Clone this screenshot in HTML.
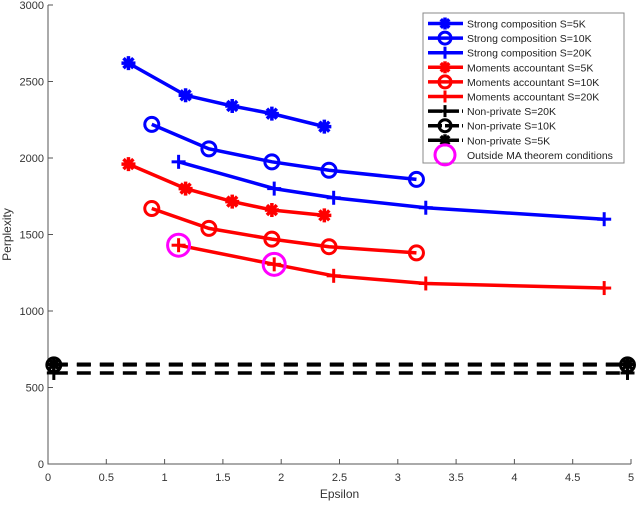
<!DOCTYPE html>
<html><head><meta charset="utf-8"><style>
body{margin:0;background:#fff;width:640px;height:503px;overflow:hidden;font-family:"Liberation Sans",sans-serif}
svg text{font-family:"Liberation Sans",sans-serif}
</style></head><body>
<svg id="chart" width="640" height="503" xmlns="http://www.w3.org/2000/svg"></svg>
<script>
const xTicks=[0,0.5,1,1.5,2,2.5,3,3.5,4,4.5,5];
const xTickLabels=["0","0.5","1","1.5","2","2.5","3","3.5","4","4.5","5"];
const yTicks=[0,500,1000,1500,2000,2500,3000];
const yTickLabels=["0","500","1000","1500","2000","2500","3000"];
const eps5K=[0.69,1.18,1.58,1.92,2.37];
const eps10K=[0.89,1.38,1.92,2.41,3.16];
const eps20K=[1.12,1.94,2.45,3.24,4.77];
const strong5K=[2620,2410,2340,2290,2205];
const strong10K=[2220,2060,1975,1920,1860];
const strong20K=[1975,1800,1740,1675,1600];
const ma5K=[1960,1800,1715,1660,1625];
const ma10K=[1670,1540,1470,1420,1380];
const ma20K=[1430,1305,1230,1180,1150];
const npEps=[0.05,4.97];
const np20K=[595,595];
const np10K=[648,648];
const np5K=[652,652];
const outsideEps=[1.12,1.94];
const outsideVals=[1430,1305];

const NS="http://www.w3.org/2000/svg";
const svg=document.getElementById('chart');
const X0=48,X1=631,Y0=464,Y1=5;
const xs=v=>X0+(v-0)/(5-0)*(X1-X0);
const ys=v=>Y0-(v-0)/(3000-0)*(Y0-Y1);
function mk(tag,attrs,parent){const e=document.createElementNS(NS,tag);for(const k in attrs)e.setAttribute(k,attrs[k]);(parent||svg).appendChild(e);return e;}

const axes=mk('g',{});


mk('path',{d:`M${X0},${Y1}V${Y0}H${X1}`,stroke:'#555',fill:'none','stroke-width':1},axes);
xTicks.forEach((t,i)=>{
  mk('line',{x1:xs(t),x2:xs(t),y1:Y0,y2:Y0-5,stroke:'#555'},axes);
  const tx=mk('text',{x:xs(t),y:Y0+17,'text-anchor':'middle','font-size':11,fill:'#333'},axes);
  tx.textContent=xTickLabels[i];
  
  
});
yTicks.forEach((t,i)=>{
  mk('line',{x1:X0,x2:X0+5,y1:ys(t),y2:ys(t),stroke:'#555'},axes);
  const tx=mk('text',{x:X0-4,y:ys(t)+4,'text-anchor':'end','font-size':11,fill:'#333'},axes);
  tx.textContent=yTickLabels[i];
  
  
});
const xt=mk('text',{x:(X0+X1)/2,y:498,'text-anchor':'middle','font-size':12,fill:'#333'});
xt.textContent='Epsilon';


const yt=mk('text',{x:0,y:0,'text-anchor':'middle','font-size':12,fill:'#333',transform:`translate(11,${(Y0+Y1)/2}) rotate(-90)`});
yt.textContent='Perplexity';



function marker(g,type,cx,cy,color,r){
  if(type==='star'){
    for(let a=0;a<4;a++){const an=a*Math.PI/4;mk('line',{x1:cx-r*Math.cos(an),y1:cy-r*Math.sin(an),x2:cx+r*Math.cos(an),y2:cy+r*Math.sin(an),stroke:color,'stroke-width':3.5},g);}
    mk('circle',{cx,cy,r:r*0.55,fill:color},g);
  }else if(type==='circle'){
    mk('circle',{cx,cy,r,fill:'none',stroke:color,'stroke-width':3},g);
  }else{
    mk('line',{x1:cx-r,x2:cx+r,y1:cy,y2:cy,stroke:color,'stroke-width':3},g);
    mk('line',{x1:cx,x2:cx,y1:cy-r,y2:cy+r,stroke:color,'stroke-width':3},g);
  }
}
function series(name,xv,yv,color,type,dash){
  const g=mk('g',{});
  
  
  const pts=xv.map((x,i)=>xs(x)+','+ys(yv[i])).join(' ');
  const a={points:pts,fill:'none',stroke:color,'stroke-width':3.5};
  if(dash)a['stroke-dasharray']=dash;
  mk('polyline',a,g);
  xv.forEach((x,i)=>marker(g,type,xs(x),ys(yv[i]),color,7));
}
series('strong-composition-5k',eps5K,strong5K,'#0000ff','star');
series('strong-composition-10k',eps10K,strong10K,'#0000ff','circle');
series('strong-composition-20k',eps20K,strong20K,'#0000ff','plus');
series('moments-accountant-5k',eps5K,ma5K,'#ff0000','star');
series('moments-accountant-10k',eps10K,ma10K,'#ff0000','circle');
series('moments-accountant-20k',eps20K,ma20K,'#ff0000','plus');
series('non-private-20k',npEps,np20K,'#000','plus','14,9');
series('non-private-10k',npEps,np10K,'#000','circle','14,9');
series('non-private-5k',npEps,np5K,'#000','star','14,9');
const og=mk('g',{});


outsideEps.forEach((x,i)=>mk('circle',{cx:xs(x),cy:ys(outsideVals[i]),r:11,fill:'none',stroke:'#ff00ff','stroke-width':3},og));

const lg=mk('g',{});


mk('rect',{x:423,y:13,width:201,height:150,fill:'#fff',stroke:'#888','stroke-width':1},lg);
const entries=[
 ['Strong composition S=5K','#0000ff','star'],
 ['Strong composition S=10K','#0000ff','circle'],
 ['Strong composition S=20K','#0000ff','plus'],
 ['Moments accountant S=5K','#ff0000','star'],
 ['Moments accountant S=10K','#ff0000','circle'],
 ['Moments accountant S=20K','#ff0000','plus'],
 ['Non-private S=20K','#000','plus'],
 ['Non-private S=10K','#000','circle'],
 ['Non-private S=5K','#000','star'],
 ['Outside MA theorem conditions','#ff00ff','magenta']];
entries.forEach((e,i)=>{
  const y=23.5+i*14.6;
  const eg=mk('g',{},lg);
  
  
  if(e[2]==='magenta'){
    mk('circle',{cx:445,cy:y,r:10,fill:'none',stroke:'#ff00ff','stroke-width':3},eg);
  }else{
    const a={x1:428,x2:463,y1:y,y2:y,stroke:e[1],'stroke-width':3.5};
    if(e[1]==='#000')a['stroke-dasharray']='14,3';
    mk('line',a,eg);
    marker(eg,e[2],445,y,e[1],6);
  }
  const t=mk('text',{x:467,y:y+4,'font-size':10.5,fill:'#222'},eg);
  t.textContent=e[0];
});
</script>
</body></html>
